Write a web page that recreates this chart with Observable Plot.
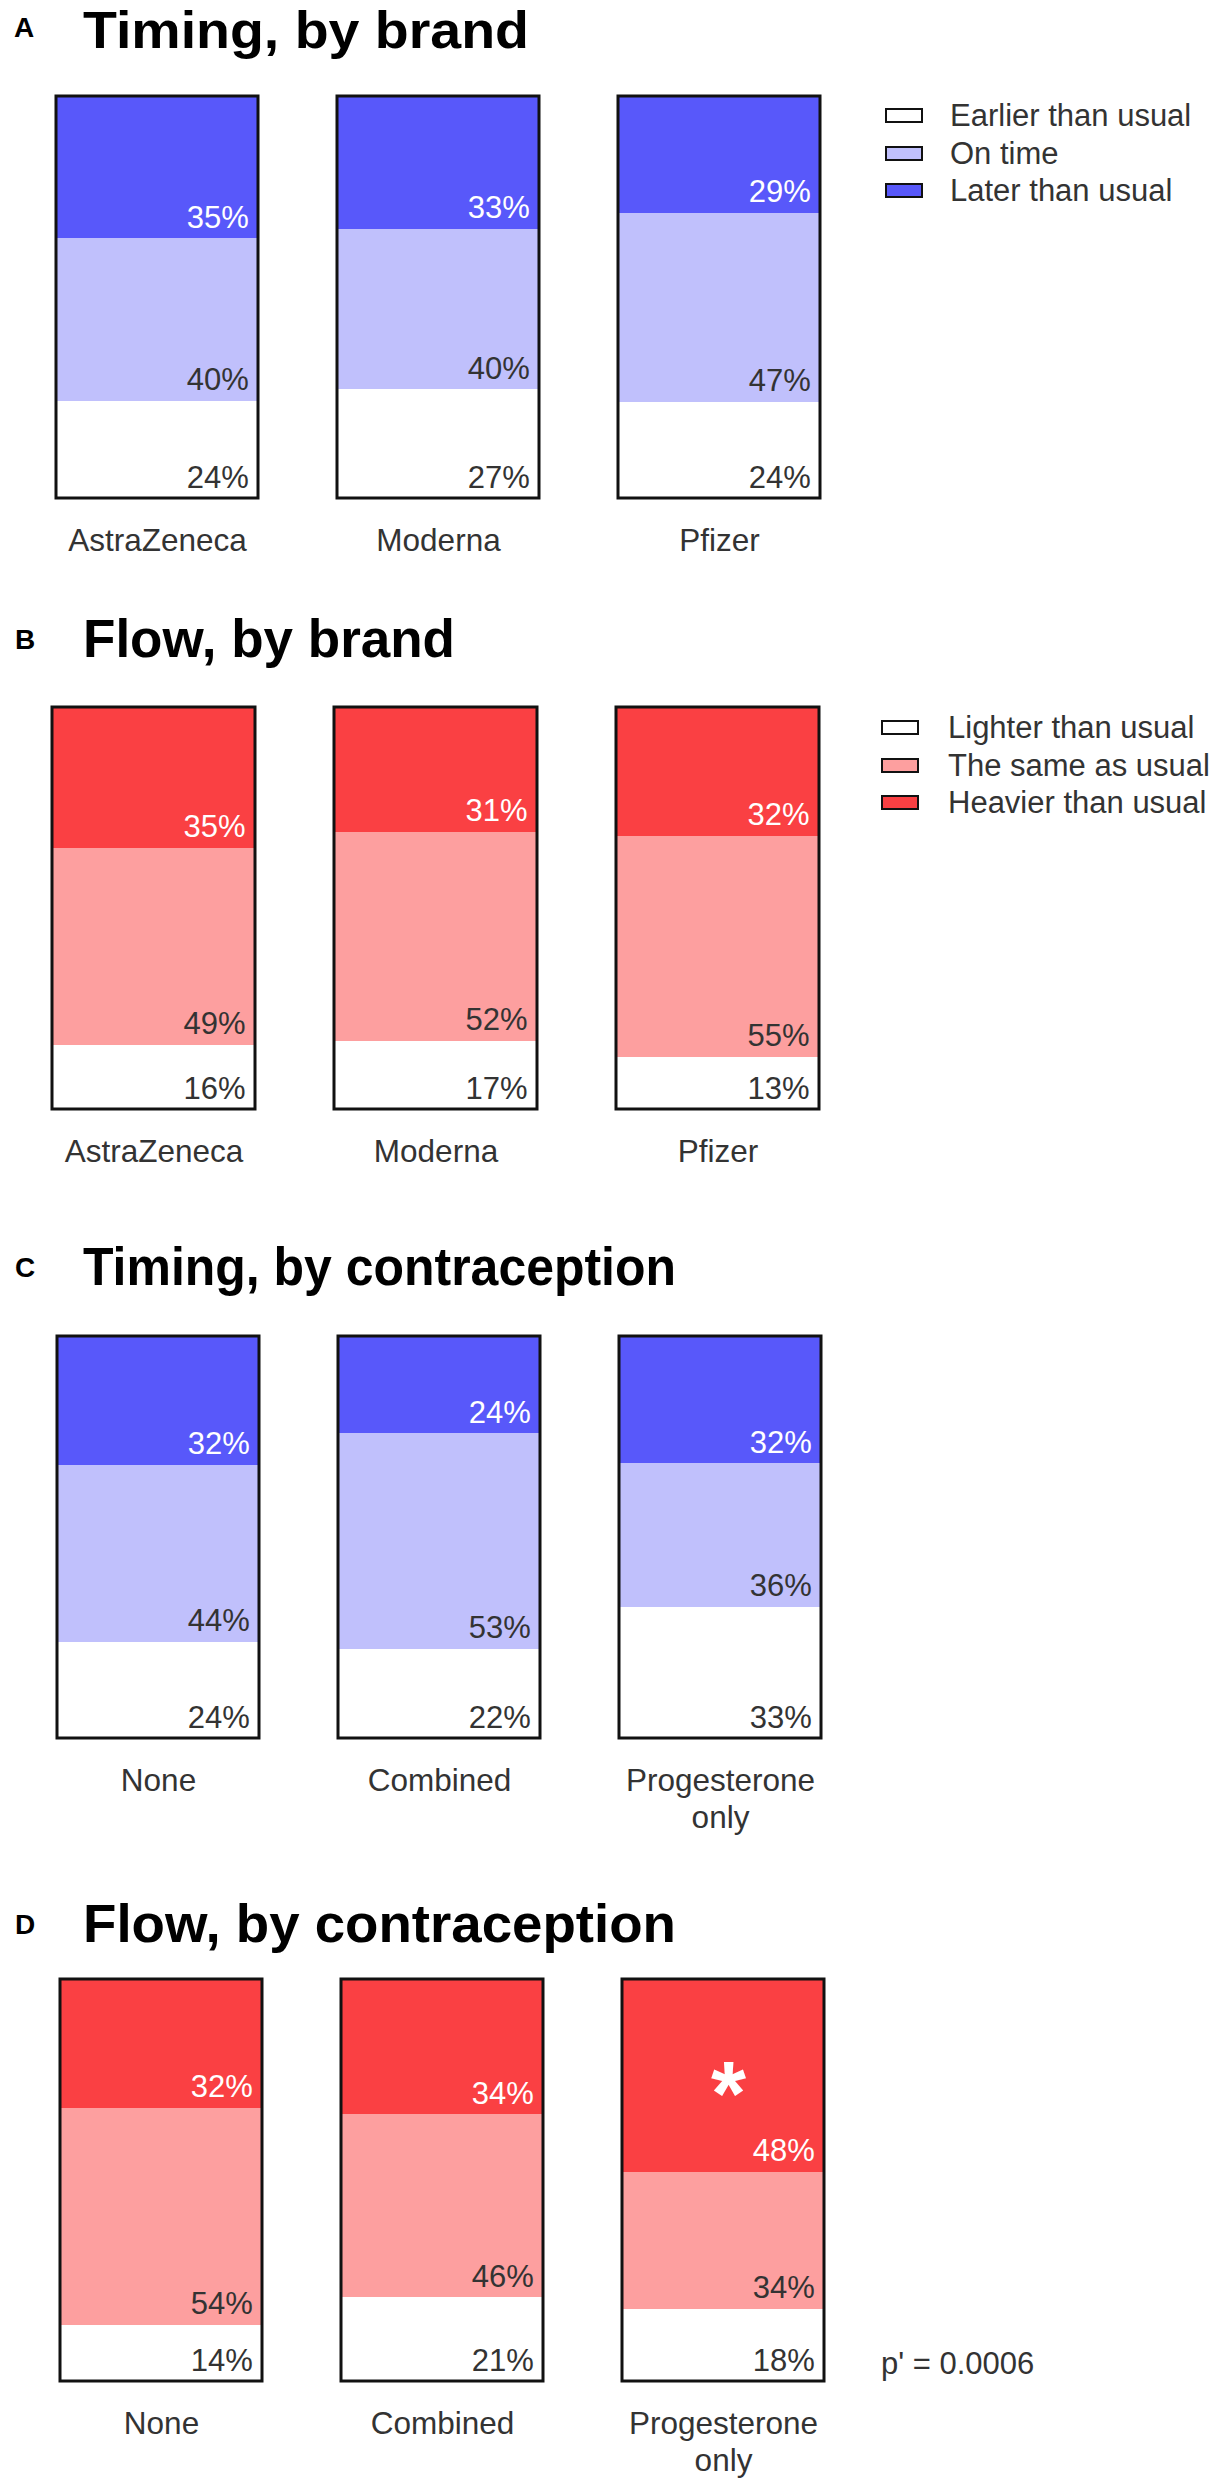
<!DOCTYPE html>
<html>
<head>
<meta charset="utf-8">
<script src="https://cdn.jsdelivr.net/npm/d3@7"></script>
<script src="https://cdn.jsdelivr.net/npm/@observablehq/plot@0.6"></script>
<style>
  html, body { margin: 0; padding: 0; background: #ffffff; }
  #root { position: relative; width: 1223px; height: 2480px; overflow: hidden; font-family: "Liberation Sans", Arial, Helvetica, sans-serif; }
  .abs { position: absolute; white-space: nowrap; line-height: 1; }
  .sw { position: absolute; box-sizing: border-box; border: 2px solid #111; }
</style>
</head>
<body>
<div id="root"></div>
<script>
// ---------- DATA ----------
const brandCats = ["AstraZeneca", "Moderna", "Pfizer"];
const brandLabels = ["AstraZeneca", "Moderna", "Pfizer"];
const contraCats = ["None", "Combined", "Progesterone only"];
const contraLabels = ["None", "Combined", "Progesterone\nonly"];

const timingSeries = ["Earlier than usual", "On time", "Later than usual"];
const flowSeries = ["Lighter than usual", "The same as usual", "Heavier than usual"];
const timingColors = ["#ffffff", "#c0c0fc", "#5858fa"];
const flowColors = ["#ffffff", "#fd9f9f", "#fa4043"];

// Timing, by brand (AstraZeneca, Moderna, Pfizer)
const timingBrandEarlier = [24, 27, 24];
const timingBrandOnTime  = [40, 40, 47];
const timingBrandLater   = [35, 33, 29];
// Flow, by brand
const flowBrandLighter = [16, 17, 13];
const flowBrandSame    = [49, 52, 55];
const flowBrandHeavier = [35, 31, 32];
// Timing, by contraception (None, Combined, Progesterone only)
const timingContraEarlier = [24, 22, 33];
const timingContraOnTime  = [44, 53, 36];
const timingContraLater   = [32, 24, 32];
// Flow, by contraception
const flowContraLighter = [14, 21, 18];
const flowContraSame    = [54, 46, 34];
const flowContraHeavier = [32, 34, 48];
const flowContraSig     = ["", "", "*"];
const flowContraP = "p' = 0.0006";

const panelLetters = ["A", "B", "C", "D"];
const panelTitles = ["Timing, by brand", "Flow, by brand", "Timing, by contraception", "Flow, by contraception"];

// ---------- LAYOUT ----------
const FONT = '"Liberation Sans", Arial, Helvetica, sans-serif';
const root = document.getElementById("root");

function placeText(text, x, baseline, fs, opts = {}) {
  const d = document.createElement("div");
  d.className = "abs";
  d.textContent = text;
  d.style.left = x + "px";
  d.style.top = (baseline - 0.905 * fs + 0.0585 * fs) + "px";
  d.style.fontSize = fs + "px";
  d.style.fontWeight = opts.bold ? "bold" : "normal";
  d.style.color = opts.color || "#000";
  root.appendChild(d);
  if (opts.targetWidth) {
    const w = d.getBoundingClientRect().width;
    d.style.transformOrigin = "0 0";
    d.style.transform = `scaleX(${opts.targetWidth / w})`;
  }
  return d;
}

function legend(series, colors, x, rows, textX) {
  series.forEach((s, i) => {
    const sw = document.createElement("div");
    sw.className = "sw";
    sw.style.left = x + "px";
    sw.style.top = (rows[i] - 7) + "px";
    sw.style.width = "38px";
    sw.style.height = "15px";
    sw.style.background = colors[i];
    root.appendChild(sw);
    placeText(s, textX, rows[i] + 0.358 * 31, 31, {color: "#333"});
  });
}

function panel(cfg) {
  const {cats, labels, series, colors, values, xRange, sig, barsTop} = cfg;
  const rows = [];
  cats.forEach((c, i) => {
    const tot = d3.sum(values, v => v[i]);
    let acc = 0;
    series.forEach((s, j) => {
      const v = values[j][i];
      rows.push({cat: c, series: s, value: v, lo: acc / tot, hi: (acc + v) / tot, top: j === series.length - 1, sig: sig ? sig[i] : ""});
      acc += v;
    });
  });
  const n = cats.length, pi = 0.28;
  const bw = (xRange[1] - xRange[0]) / (n - pi) * (1 - pi);
  const H = 402, mt = 6, mb = 94;
  const topRows = rows.filter(r => r.top);
  const marks = [
    Plot.barY(rows, {x: "cat", y1: "lo", y2: "hi", fill: "series", shapeRendering: "crispEdges"}),
    Plot.barY(cats, {x: d => d, y1: 0, y2: 1, fill: "none", stroke: "#111", strokeWidth: 3}),
    Plot.text(topRows, {x: "cat", y: "lo", text: d => d.value + "%", textAnchor: "end", lineAnchor: "bottom", dx: bw / 2 - 10, dy: -11, fill: "white", fontSize: 31}),
    Plot.text(rows.filter(r => !r.top), {x: "cat", y: "lo", text: d => d.value + "%", textAnchor: "end", lineAnchor: "bottom", dx: bw / 2 - 10, dy: -11, fill: "#333", fontSize: 31}),
    Plot.text(cats, {x: d => d, text: (d, i) => labels[i], frameAnchor: "bottom", lineAnchor: "top", dy: 26, fontSize: 31.5, lineHeight: 1.18, fill: "#333"})
  ];
  if (sig) {
    marks.push(Plot.text(topRows.filter(r => r.sig), {x: "cat", y: d => (d.lo + d.hi) / 2, text: "sig", lineAnchor: "middle", dx: 5, dy: 20, fill: "white", fontSize: 90, fontWeight: "bold"}));
  }
  const svg = Plot.plot({
    width: 880, height: mt + H + mb,
    marginTop: mt, marginBottom: mb, marginLeft: 0, marginRight: 0,
    style: {fontFamily: FONT, background: "transparent", overflow: "visible"},
    x: {domain: cats, range: xRange, paddingInner: pi, paddingOuter: 0, axis: null},
    y: {domain: [0, 1], axis: null},
    color: {domain: series, range: colors},
    marks
  });
  const wrap = document.createElement("div");
  wrap.style.position = "absolute";
  wrap.style.left = "0px";
  wrap.style.top = (barsTop - mt) + "px";
  wrap.appendChild(svg);
  root.appendChild(wrap);
}

// Panel A
placeText(panelLetters[0], 14, 38, 28, {bold: true});
placeText(panelTitles[0], 83, 48, 52, {bold: true, targetWidth: 446});
panel({cats: brandCats, labels: brandLabels, series: timingSeries, colors: timingColors,
  values: [timingBrandEarlier, timingBrandOnTime, timingBrandLater], xRange: [55, 821], barsTop: 96});
legend(timingSeries, timingColors, 885, [115, 153, 190], 950);

// Panel B
placeText(panelLetters[1], 15, 650, 28, {bold: true});
placeText(panelTitles[1], 83, 657, 53, {bold: true, targetWidth: 372});
panel({cats: brandCats, labels: brandLabels, series: flowSeries, colors: flowColors,
  values: [flowBrandLighter, flowBrandSame, flowBrandHeavier], xRange: [52, 820], barsTop: 707});
legend(flowSeries, flowColors, 881, [727, 765, 802], 948);

// Panel C
placeText(panelLetters[2], 15, 1278, 28, {bold: true});
placeText(panelTitles[2], 83, 1285, 53, {bold: true, targetWidth: 593});
panel({cats: contraCats, labels: contraLabels, series: timingSeries, colors: timingColors,
  values: [timingContraEarlier, timingContraOnTime, timingContraLater], xRange: [57, 822], barsTop: 1336});

// Panel D
placeText(panelLetters[3], 15, 1935, 28, {bold: true});
placeText(panelTitles[3], 83, 1942, 53, {bold: true, targetWidth: 593});
panel({cats: contraCats, labels: contraLabels, series: flowSeries, colors: flowColors,
  values: [flowContraLighter, flowContraSame, flowContraHeavier], xRange: [60, 825], barsTop: 1979, sig: flowContraSig});
placeText(flowContraP, 881, 2363 + 0.358 * 31, 31, {color: "#333"});
</script>
</body>
</html>
